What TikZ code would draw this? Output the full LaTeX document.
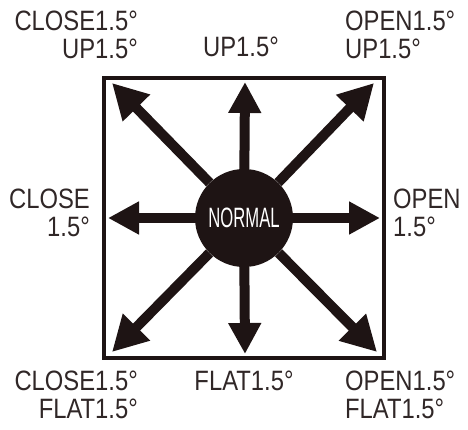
\documentclass[tikz,border=0pt]{standalone}
\usepackage{fontspec}
\setmainfont{Liberation Sans}[FakeStretch=0.85]
\usepackage{tikz}
\usetikzlibrary{arrows.meta}
\definecolor{ink}{RGB}{30,20,20}

\begin{document}
\begin{tikzpicture}[x=1pt,y=-1pt,
  tag/.style={inner sep=0pt, font=\fontsize{28}{28}\selectfont, text=ink!92},
  ray/.style={ink, line width=10pt, -{Triangle[length=31pt,width=31pt]}},
  diag/.style={ink, line width=10pt, -{Triangle[length=35pt,width=36pt]}}]
  \useasboundingbox (0,0) rectangle (468,430);
  % Box
  \draw[ink, line width=4pt] (104,78) rectangle (384,358);
  % Centre
  \node[circle, fill=ink, minimum size=98pt, inner sep=0pt] (normal) at (244,218)
    {\color{white}\fontsize{28}{28}\selectfont\scalebox{0.7}[1]{NORMAL}};
  % Arrow ends
  \coordinate (up) at (245,82);
  \coordinate (down) at (245,354);
  \coordinate (left) at (108,218);
  \coordinate (right) at (380,218);
  \coordinate (upleft) at (112,83);
  \coordinate (upright) at (374,83);
  \coordinate (downleft) at (112,352);
  \coordinate (downright) at (377,352);
  % Arrows
  \draw[ray] (normal) -- (up);
  \draw[ray] (normal) -- (down);
  \draw[ray] (normal) -- (left);
  \draw[ray] (normal) -- (right);
  \draw[diag] (normal) -- (upleft);
  \draw[diag] (normal) -- (upright);
  \draw[diag] (normal) -- (downleft);
  \draw[diag] (normal) -- (downright);
  % Labels
  \node[tag, anchor=north east, align=right] (tl) at (138,11) {CLOSE1.5°\\UP1.5°};
  \node[tag, anchor=north] (t) at (241,37) {UP1.5°};
  \node[tag, anchor=north west, align=left] (tr) at (345,11) {OPEN1.5°\\UP1.5°};
  \node[tag, anchor=north east, align=right] (l) at (90,189) {CLOSE\\1.5°};
  \node[tag, anchor=north west, align=left] (r) at (393,189) {OPEN\\1.5°};
  \node[tag, anchor=north east, align=right] (bl) at (138,371) {CLOSE1.5°\\FLAT1.5°};
  \node[tag, anchor=north] (b) at (244,371) {FLAT1.5°};
  \node[tag, anchor=north west, align=left] (br) at (345,371) {OPEN1.5°\\FLAT1.5°};
\end{tikzpicture}
\end{document}
